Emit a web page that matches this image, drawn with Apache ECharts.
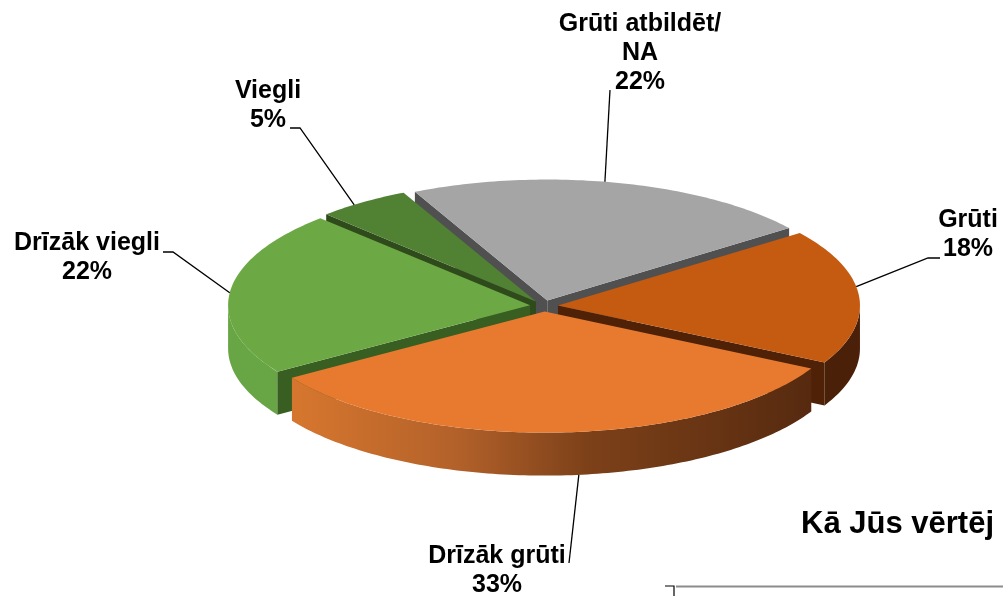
<!DOCTYPE html>
<html><head><meta charset="utf-8">
<script src="https://cdn.jsdelivr.net/npm/echarts@6/dist/echarts.min.js"></script>
<style>html,body{margin:0;padding:0;background:#fff;}#c{width:1003px;height:596px;}</style>
</head><body><div id="c"></div>
<script>
// ---- data ----
const categories = ['Grūti atbildēt/\nNA', 'Grūti', 'Drīzāk grūti', 'Drīzāk viegli', 'Viegli'];
const values = [22, 18, 33, 22, 5];
const percentLabels = ['22%', '18%', '33%', '22%', '5%'];

// ---- styles ----
const topColors  = ['#A5A5A5', '#C55A11', '#E87A2F', '#6CA944', '#518233'];
const cutColors  = ['#505050', '#4F2208', '#6A3A18', '#385E22', '#2F4B1C'];
const sideStops  = [
  [[0, '#707070'], [1, '#5a5a5a']],
  [[0, '#5A280B'], [1, '#4A2008']],
  [[0, '#D5762E'], [0.3, '#B3612A'], [0.55, '#7D4119'], [1, '#55290F']],
  [[0, '#68A544'], [1, '#5C963B']],
  [[0, '#466F2A'], [1, '#3E6325']]
];

// ---- layout (pixels) ----
const PIE = { cx: 544, cy: 306, a: 302, b: 121, h: 43, explode: 14, start: 334 };
const labelPos = [[640, 53], [968, 235], [497, 571], [87, 258], [268, 106]];
const leaderFrom = [[[610, 90]], [[940, 258], [928, 258]], [[569, 563]], [[163, 252], [173, 252]], [[290, 128], [300, 128]]];
const leaderAngle = [11, 81, 173.5, 276, 323];     // where the leader touches the pie
const leaderOnBottom = [false, false, true, false, false];
const FONT = 'bold 25px "Liberation Sans", Arial, sans-serif';

const total = values.reduce((s, v) => s + v, 0);
const starts = [];
values.reduce((acc, v, i) => { starts[i] = PIE.start + 360 * acc / total; return acc + v; }, 0);
const mids = values.map((v, i) => starts[i] + 180 * v / total);
const depthOrder = mids.map((m, i) => i).sort((p, q) => (-Math.cos(mids[p] * Math.PI / 180)) - (-Math.cos(mids[q] * Math.PI / 180)));
const rankOf = []; depthOrder.forEach((idx, r) => rankOf[idx] = r);

function P(phi, ox, oy, dh) {
  const r = phi * Math.PI / 180;
  return [PIE.cx + ox + PIE.a * Math.sin(r), PIE.cy + oy - PIE.b * Math.cos(r) + dh];
}
function arc(s, e, ox, oy, dh) {
  const pts = []; const n = Math.max(2, Math.ceil(Math.abs(e - s)));
  for (let k = 0; k <= n; k++) pts.push(P(s + (e - s) * k / n, ox, oy, dh));
  return pts;
}

function renderItem(params, api) {
  const i = params.dataIndex;
  const v = api.value(0);
  const s = starts[i], e = s + 360 * v / total, m = (s + e) / 2;
  const mr = m * Math.PI / 180;
  const ox = PIE.explode * Math.sin(mr), oy = -PIE.explode * (PIE.b / PIE.a) * Math.cos(mr);
  const apexT = [PIE.cx + ox, PIE.cy + oy], apexB = [PIE.cx + ox, PIE.cy + oy + PIE.h];
  const base = rankOf[i] * 10;
  const ch = [];
  // outer side wall (front-facing part only)
  [[90, 270], [450, 630]].forEach(function (w) {
    const a1 = Math.max(s, w[0]), a2 = Math.min(e, w[1]);
    if (a2 > a1) {
      const pts = arc(a1, a2, ox, oy, 0).concat(arc(a2, a1, ox, oy, PIE.h));
      ch.push({ type: 'polygon', z2: base + 1, shape: { points: pts },
        style: { fill: { type: 'linear', x: 300, y: 0, x2: 820, y2: 0, global: true,
          colorStops: sideStops[i].map(st => ({ offset: st[0], color: st[1] })) } } });
    }
  });
  // cut walls
  const sinS = Math.sin(s * Math.PI / 180), sinE = Math.sin(e * Math.PI / 180);
  if (sinS < 0) ch.push({ type: 'polygon', z2: base + 2,
    shape: { points: [apexT, P(s, ox, oy, 0), P(s, ox, oy, PIE.h), apexB] }, style: { fill: cutColors[i] } });
  if (sinE > 0) ch.push({ type: 'polygon', z2: base + 2,
    shape: { points: [apexT, P(e, ox, oy, 0), P(e, ox, oy, PIE.h), apexB] }, style: { fill: cutColors[i] } });
  // top face
  ch.push({ type: 'polygon', z2: base + 3, shape: { points: [apexT].concat(arc(s, e, ox, oy, 0)) },
    style: { fill: topColors[i] } });
  // leader line
  const endPt = P(leaderAngle[i], ox, oy, leaderOnBottom[i] ? PIE.h : 0);
  ch.push({ type: 'polyline', z2: 200, shape: { points: leaderFrom[i].concat([endPt]) },
    style: { stroke: '#000', lineWidth: 1.3, fill: null } });
  // label
  ch.push({ type: 'text', z2: 201, x: labelPos[i][0], y: labelPos[i][1],
    style: { text: categories[i] + '\n' + percentLabels[i], font: FONT, fill: '#000',
      align: 'center', verticalAlign: 'middle', lineHeight: 29 } });
  return { type: 'group', children: ch };
}

const chart = echarts.init(document.getElementById('c'), null, { renderer: 'canvas' });
chart.setOption({
  animation: false,
  backgroundColor: '#fff',
  series: [{
    type: 'custom',
    coordinateSystem: 'none',
    renderItem: renderItem,
    data: values.map((v, i) => [v, i])
  }],
  graphic: [
    { type: 'text', left: 801, top: 509, z: 10,
      style: { text: 'Kā Jūs vērtēj', font: 'bold 31px "Liberation Sans", Arial, sans-serif', fill: '#000' } },
    { type: 'polyline', z: 10, shape: { points: [[665, 586], [674, 586], [674, 596]] },
      style: { stroke: '#000', lineWidth: 1.2, fill: null } },
    { type: 'line', z: 10, shape: { x1: 676, y1: 586.5, x2: 1003, y2: 586.5 },
      style: { stroke: '#8C8C8C', lineWidth: 2 } }
  ]
});
</script>
</body></html>
